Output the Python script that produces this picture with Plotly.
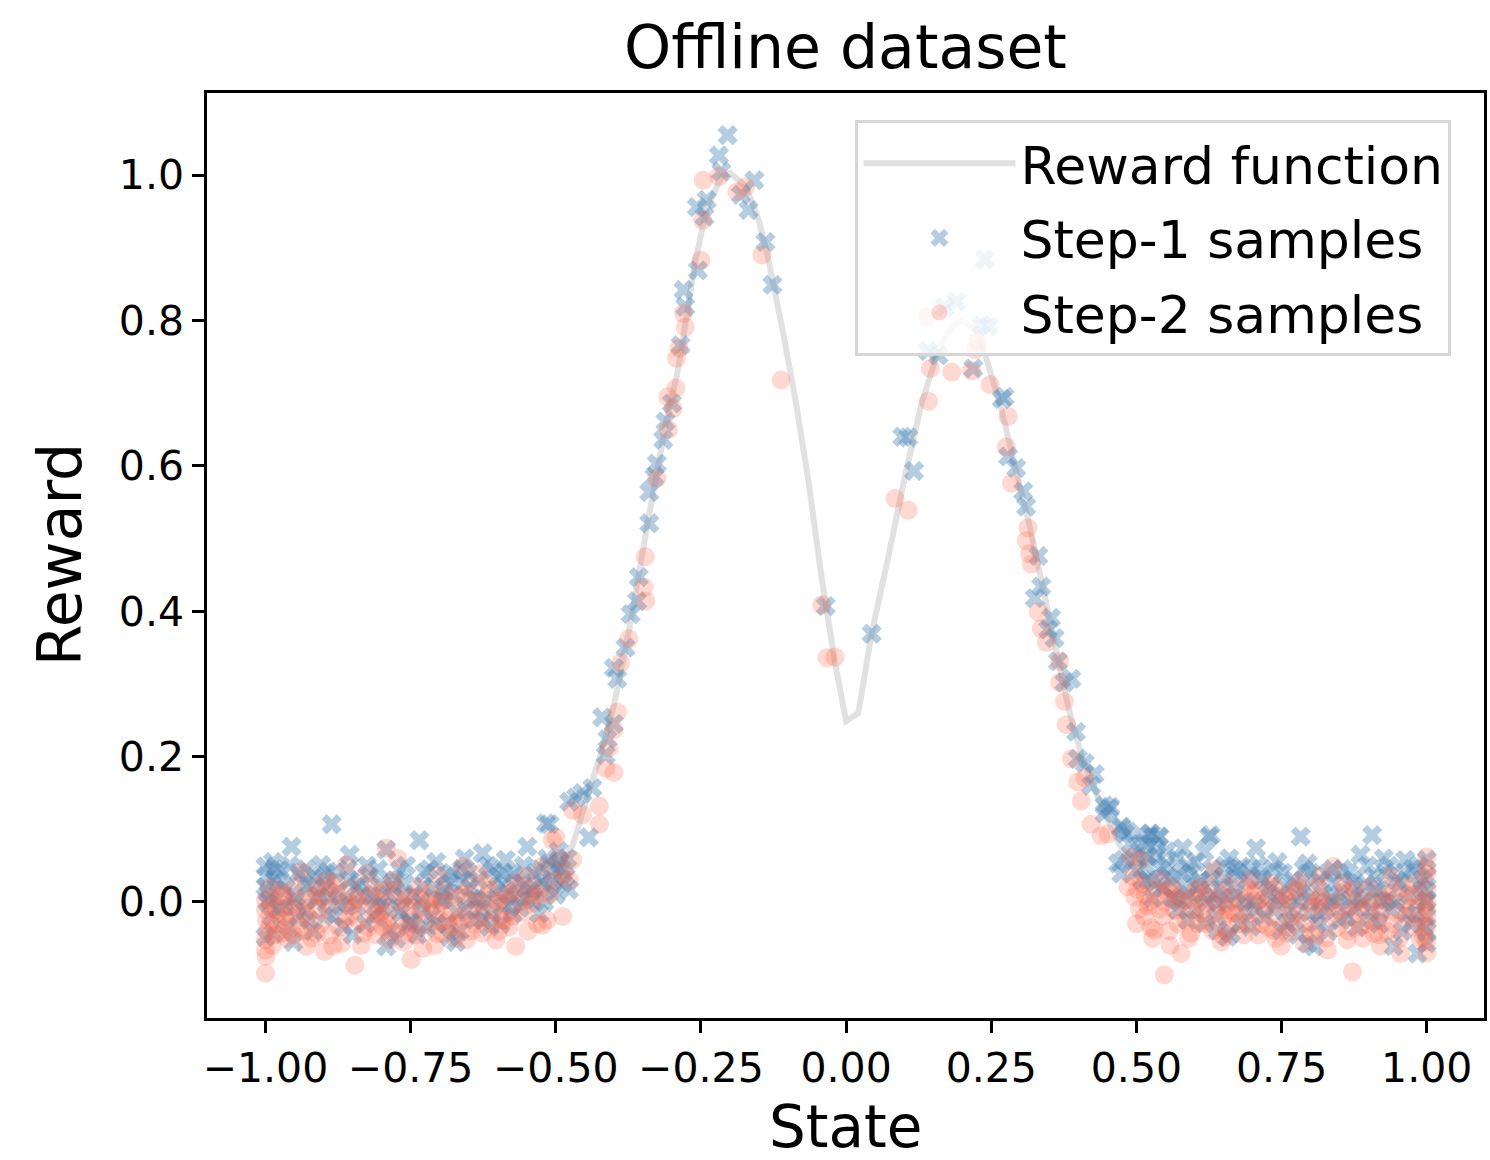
import plotly.graph_objects as go

# ---------------- data ----------------
reward_x = [-1.0, -0.8, -0.7, -0.6, -0.55, -0.5, -0.47, -0.44, -0.42, -0.40, -0.37, -0.34,
            -0.31, -0.29, -0.26, -0.24, -0.214, -0.20, -0.173, -0.15, -0.133, -0.11, -0.087,
            -0.065, -0.042, -0.019, 0.0, 0.021, 0.044, 0.073, 0.10, 0.13, 0.159, 0.182, 0.20,
            0.227, 0.245, 0.268, 0.29, 0.313, 0.336, 0.359, 0.382, 0.405, 0.439, 0.47, 0.5,
            0.55, 0.6, 0.7, 0.8, 1.0]
reward_y = [0.0, 0.0, 0.001, 0.005, 0.015, 0.04, 0.08, 0.16, 0.21, 0.27, 0.39, 0.53,
            0.66, 0.73, 0.88, 0.955, 0.998, 1.003, 0.985, 0.937, 0.881, 0.789, 0.69,
            0.58, 0.445, 0.329, 0.249, 0.26, 0.37, 0.476, 0.581, 0.686, 0.76, 0.792, 0.80,
            0.787, 0.739, 0.676, 0.602, 0.528, 0.444, 0.355, 0.27, 0.202, 0.133, 0.08, 0.04,
            0.015, 0.005, 0.001, 0.0, 0.0]

step1_left = [
    (-0.886, 0.107), (-0.955, 0.076), (-0.855, 0.065), (-0.792, 0.072), (-0.735, 0.085),
    (-0.706, 0.055), (-0.657, 0.060), (-0.626, 0.067), (-0.517, 0.108), (-0.549, 0.076),
    (-1.0, 0.049), (-0.987, 0.055), (-0.998, 0.035), (-0.975, 0.044), (-0.904, 0.051),
    (-0.892, 0.042), (-0.952, -0.055), (-0.672, -0.055), (-0.752, -0.029), (-0.723, -0.036),
    (-0.792, -0.061), (-0.695, 0.003), (-0.683, 0.026), (-0.660, 0.030), (-0.609, 0.044),
    (-0.586, 0.058), (-0.511, 0.053), (-0.488, 0.026), (-0.477, 0.017), (-0.529, -0.016),
    (-0.574, -0.016), (-0.592, -0.006), (-0.626, -0.025), (-0.855, 0.030), (-0.832, 0.012),
    (-0.912, 0.003), (-0.935, 0.026), (-0.924, -0.025), (-0.866, -0.034), (-0.843, -0.006),
    (-0.769, 0.044), (-0.781, 0.021), (-0.763, 0.007), (-0.729, 0.021), (-0.752, -0.025),
    (-0.700, 0.003), (-0.654, -0.011), (-0.637, 0.003), (-0.614, -0.034), (-0.683, -0.048),
    (-0.775, -0.050), (-0.987, -0.043), (-1.0, -0.048), (-0.969, -0.006), (-0.947, 0.007),
    (-0.992, 0.003), (-1.0, 0.021), (-0.889, 0.007), (-0.809, 0.003), (-0.821, 0.035),
    (-0.557, 0.026), (-0.540, 0.003), (-0.569, 0.007), (-0.523, 0.026), (-0.500, 0.049),
    (-0.483, 0.035), (-0.895, -0.016), (-0.729, -0.011), (-0.803, -0.011), (-0.592, 0.021),
    (-0.995, 0.012), (-0.990, -0.020), (-0.983, 0.030), (-0.978, -0.010), (-0.965, 0.018),
    (-0.960, -0.035), (-0.950, 0.000), (-0.943, 0.040), (-0.932, -0.012), (-0.925, 0.022),
    (-0.918, -0.040), (-0.908, 0.010), (-0.900, 0.032), (-0.882, -0.020), (-0.875, 0.015),
    (-0.860, 0.000), (-0.850, -0.045), (-0.838, 0.025), (-0.828, -0.030), (-0.818, 0.008),
    (-0.806, 0.045), (-0.797, -0.005), (-0.785, -0.040), (-0.777, 0.030), (-0.766, -0.015),
    (-0.758, 0.050), (-0.745, 0.010), (-0.738, -0.045), (-0.726, 0.040), (-0.714, -0.020),
    (-0.710, 0.020), (-0.690, 0.035), (-0.688, -0.030), (-0.676, 0.010), (-0.666, -0.040),
    (-0.662, 0.045), (-0.648, 0.020), (-0.640, -0.025), (-0.633, 0.030), (-0.620, 0.005),
    (-0.610, -0.015), (-0.600, 0.035), (-0.595, -0.030), (-0.582, 0.012), (-0.575, 0.040),
    (-0.562, -0.008), (-0.555, 0.050), (-0.545, 0.015), (-0.535, 0.040), (-0.520, 0.000),
    (-0.515, 0.060), (-0.505, 0.030), (-0.495, 0.070), (-0.490, 0.045),
    (-0.997, 0.000), (-0.985, 0.045), (-0.972, 0.025), (-0.958, 0.050), (-0.945, -0.020),
    (-0.930, 0.045), (-0.915, 0.035), (-0.898, 0.020), (-0.880, 0.040), (-0.870, -0.005),
    (-0.858, 0.045), (-0.845, 0.020), (-0.825, 0.050), (-0.812, -0.020), (-0.800, 0.025),
    (-0.788, 0.010), (-0.772, -0.010), (-0.760, 0.025), (-0.748, -0.030), (-0.732, 0.000),
    (-0.718, 0.045), (-0.705, -0.030), (-0.692, 0.015), (-0.680, 0.040), (-0.670, -0.015),
    (-0.651, 0.040), (-0.643, 0.005), (-0.630, -0.010), (-0.617, 0.050), (-0.603, 0.015),
    (-0.590, 0.040), (-0.578, -0.005), (-0.566, 0.030), (-0.552, 0.005), (-0.538, 0.020),
    (-0.526, 0.045), (-0.512, 0.020), (-0.500, 0.010), (-0.492, 0.055), (-0.480, 0.060),
]
step1_mid = [
    (-0.511, 0.107), (-0.477, 0.138), (-0.465, 0.144), (-0.454, 0.150), (-0.443, 0.089),
    (-0.437, 0.157), (-0.414, 0.202), (-0.411, 0.224), (-0.400, 0.245), (-0.420, 0.254),
    (-0.394, 0.307), (-0.400, 0.322), (-0.380, 0.350), (-0.360, 0.414), (-0.371, 0.396),
    (-0.357, 0.447), (-0.339, 0.521), (-0.339, 0.564), (-0.330, 0.585), (-0.326, 0.603),
    (-0.315, 0.636), (-0.311, 0.661), (-0.300, 0.686), (-0.285, 0.766), (-0.277, 0.819),
    (-0.280, 0.842), (-0.255, 0.869), (-0.257, 0.956), (-0.240, 0.966), (-0.244, 0.943),
    (-0.219, 1.027), (-0.204, 1.055), (-0.215, 1.005), (-0.181, 0.973), (-0.168, 0.952),
    (-0.158, 0.993), (-0.139, 0.908), (-0.127, 0.849), (-0.035, 0.407), (0.044, 0.369),
    (0.107, 0.639), (0.117, 0.593), (0.097, 0.640), (0.141, 0.758), (0.159, 0.752),
    (0.170, 0.818), (0.190, 0.826), (0.239, 0.884), (0.233, 0.794), (0.245, 0.792),
    (0.219, 0.734), (0.268, 0.692), (0.273, 0.695), (0.279, 0.613), (0.293, 0.597),
    (0.305, 0.565), (0.310, 0.544), (0.331, 0.476), (0.336, 0.434), (0.325, 0.418),
    (0.353, 0.391), (0.348, 0.375), (0.359, 0.363), (0.365, 0.331), (0.388, 0.307),
    (0.376, 0.302), (0.396, 0.234), (0.399, 0.197), (0.411, 0.191), (0.428, 0.176),
    (0.422, 0.160), (0.445, 0.133), (0.454, 0.128), (0.474, 0.102), (0.485, 0.097),
]
step1_right = [
    (0.783, 0.090), (0.906, 0.092), (0.628, 0.092), (0.706, 0.074), (0.743, 0.055),
    (0.580, 0.074), (0.617, 0.069), (0.525, 0.094), (0.540, 0.090), (0.886, 0.065),
    (0.926, 0.060), (0.963, 0.058), (1.0, 0.058), (0.984, -0.071), (0.806, -0.061),
    (0.657, -0.048), (0.943, -0.061), (1.0, -0.057), (0.795, 0.053), (0.680, 0.049),
    (0.474, 0.104), (0.480, 0.094), (0.468, 0.053), (0.474, 0.039), (0.520, 0.062),
    (0.554, 0.035), (0.588, 0.049), (0.605, 0.021), (0.651, 0.035), (0.669, 0.044),
    (0.714, 0.035), (0.760, 0.021), (0.829, 0.039), (0.840, 0.026), (0.875, 0.021),
    (0.909, 0.035), (0.955, 0.026), (0.989, 0.021), (1.0, 0.003), (0.571, -0.011),
    (0.588, -0.025), (0.617, -0.029), (0.663, -0.043), (0.697, -0.034), (0.737, -0.011),
    (0.772, -0.025), (0.800, 0.003), (0.817, -0.016), (0.852, -0.025), (0.869, 0.003),
    (0.903, -0.011), (0.932, 0.003), (0.966, -0.016), (0.995, -0.034), (0.560, 0.007),
    (0.634, 0.007), (0.726, 0.012), (0.783, 0.012), (0.835, 0.003), (0.886, 0.007),
    (0.920, 0.017), (0.502, 0.044), (0.531, 0.026), (0.795, -0.057), (0.749, -0.039),
    (0.640, -0.039), (0.686, -0.011), (0.514, 0.081), (0.445, 0.122), (0.455, 0.131),
    (0.478, 0.058), (0.523, 0.094), (0.538, 0.090), (0.625, 0.090),
    (0.490, 0.080), (0.505, 0.070), (0.510, 0.030), (0.517, 0.050), (0.528, 0.005),
    (0.535, 0.065), (0.545, 0.020), (0.550, 0.050), (0.562, 0.030), (0.570, 0.060),
    (0.575, 0.000), (0.585, 0.020), (0.595, 0.040), (0.600, -0.010), (0.610, 0.030),
    (0.622, 0.000), (0.630, 0.045), (0.638, -0.020), (0.645, 0.020), (0.655, 0.000),
    (0.660, 0.060), (0.672, 0.010), (0.678, -0.030), (0.690, 0.030), (0.700, 0.000),
    (0.710, 0.050), (0.720, -0.020), (0.730, 0.020), (0.742, 0.000), (0.752, 0.040),
    (0.765, -0.010), (0.770, 0.030), (0.778, -0.045), (0.790, 0.020), (0.800, 0.040),
    (0.810, -0.030), (0.822, 0.010), (0.830, -0.040), (0.845, 0.000), (0.855, 0.045),
    (0.862, -0.020), (0.872, 0.030), (0.880, -0.035), (0.890, 0.000), (0.898, 0.050),
    (0.912, 0.015), (0.918, -0.030), (0.928, 0.040), (0.938, -0.010), (0.948, 0.030),
    (0.958, -0.040), (0.970, 0.010), (0.975, 0.045), (0.982, -0.015), (0.992, 0.030),
    (1.0, 0.035), (1.0, -0.020), (1.0, 0.015), (1.0, -0.040),
    (0.498, 0.060), (0.512, 0.090), (0.520, 0.030), (0.532, 0.075), (0.542, 0.045),
    (0.552, 0.070), (0.565, 0.005), (0.578, 0.040), (0.590, 0.010), (0.603, 0.055),
    (0.614, 0.010), (0.627, 0.030), (0.642, 0.000), (0.652, 0.050), (0.666, 0.020),
    (0.675, 0.040), (0.688, 0.000), (0.698, 0.045), (0.708, -0.010), (0.718, 0.030),
    (0.735, 0.045), (0.748, 0.010), (0.758, -0.030), (0.775, 0.000), (0.788, 0.045),
    (0.798, -0.015), (0.815, 0.030), (0.826, -0.010), (0.838, 0.045), (0.850, 0.010),
    (0.866, 0.040), (0.877, -0.010), (0.895, 0.025), (0.907, -0.025), (0.922, 0.000),
    (0.935, 0.050), (0.945, 0.000), (0.962, 0.040), (0.973, -0.030), (0.986, 0.050),
    (0.997, 0.000),
]

step2_left = [
    (-1.0, -0.098), (-1.0, -0.066), (-1.0, -0.052), (-1.0, -0.011), (-1.0, 0.003),
    (-0.998, -0.025), (-0.981, -0.011), (-0.969, 0.007), (-0.969, -0.043), (-0.938, 0.042),
    (-0.929, -0.061), (-0.898, -0.068), (-0.884, -0.061), (-0.869, -0.057), (-0.861, 0.051),
    (-0.846, -0.087), (-0.826, 0.039), (-0.815, -0.011), (-0.792, 0.074), (-0.772, 0.060),
    (-0.792, -0.029), (-0.786, -0.052), (-0.749, -0.079), (-0.729, -0.064), (-0.703, 0.037),
    (-0.717, 0.012), (-0.695, -0.043), (-0.654, -0.052), (-0.626, -0.043), (-0.632, 0.039),
    (-0.603, -0.052), (-0.580, -0.034), (-0.569, -0.061), (-0.540, -0.002), (-0.523, -0.032),
    (-0.506, 0.085), (-0.488, -0.020), (-0.471, 0.058), (-0.477, 0.030), (-0.958, -0.006),
    (-0.912, 0.021), (-0.878, 0.026), (-0.843, 0.003), (-0.809, -0.016), (-0.798, -0.034),
    (-0.775, 0.017), (-0.758, -0.006), (-0.741, 0.007), (-0.706, -0.011), (-0.672, 0.007),
    (-0.649, -0.016), (-0.614, 0.017), (-0.592, 0.003), (-0.569, 0.026), (-0.551, 0.035),
    (-0.523, 0.049), (-0.855, -0.020), (-0.924, 0.003), (-0.992, -0.029), (-0.964, -0.025),
    (-0.941, -0.034), (-0.912, -0.043), (-0.706, -0.043), (-0.752, -0.043), (-0.832, -0.043),
    (-0.677, -0.034), (-0.592, -0.025), (-0.660, 0.049), (-0.895, 0.030),
    (-0.997, -0.040), (-0.993, 0.020), (-0.988, -0.060), (-0.978, -0.030), (-0.972, 0.010),
    (-0.962, -0.050), (-0.955, -0.015), (-0.948, 0.020), (-0.935, -0.040), (-0.927, -0.020),
    (-0.915, 0.010), (-0.905, -0.030), (-0.893, -0.010), (-0.887, 0.020), (-0.873, -0.035),
    (-0.865, 0.000), (-0.852, 0.020), (-0.840, -0.025), (-0.835, -0.060), (-0.820, 0.010),
    (-0.810, -0.045), (-0.800, 0.000), (-0.790, -0.015), (-0.780, 0.030), (-0.770, -0.030),
    (-0.762, -0.055), (-0.755, 0.005), (-0.745, -0.020), (-0.735, 0.020), (-0.725, -0.030),
    (-0.712, -0.005), (-0.700, -0.025), (-0.690, 0.015), (-0.680, -0.012), (-0.668, -0.030),
    (-0.658, 0.010), (-0.645, -0.040), (-0.636, 0.000), (-0.625, -0.020), (-0.618, 0.025),
    (-0.605, -0.010), (-0.598, -0.040), (-0.585, 0.010), (-0.575, -0.020), (-0.560, 0.000),
    (-0.548, -0.040), (-0.537, 0.020), (-0.528, 0.010), (-0.515, -0.025), (-0.503, 0.030),
    (-0.495, 0.060), (-0.485, 0.040),
    (-0.999, -0.075), (-0.990, -0.005), (-0.982, -0.045), (-0.975, 0.015), (-0.966, -0.020),
    (-0.952, -0.045), (-0.944, 0.000), (-0.932, -0.015), (-0.920, -0.050), (-0.910, -0.010),
    (-0.900, 0.005), (-0.890, -0.045), (-0.876, 0.010), (-0.862, -0.025), (-0.850, -0.005),
    (-0.838, 0.000), (-0.823, -0.035), (-0.812, 0.020), (-0.803, -0.020), (-0.795, 0.015),
    (-0.782, -0.040), (-0.768, 0.000), (-0.756, -0.035), (-0.740, -0.045), (-0.732, -0.010),
    (-0.720, 0.000), (-0.708, -0.060), (-0.697, 0.000), (-0.686, -0.025), (-0.673, -0.050),
    (-0.662, -0.020), (-0.650, 0.020), (-0.640, -0.030), (-0.628, 0.000), (-0.612, -0.030),
    (-0.600, 0.000), (-0.588, -0.025), (-0.572, 0.015), (-0.556, -0.015), (-0.543, 0.010),
    (-0.532, -0.030), (-0.510, 0.010),
]
step2_mid = [
    (-0.500, 0.089), (-0.471, 0.126), (-0.454, 0.120), (-0.425, 0.132), (-0.425, 0.107),
    (-0.414, 0.184), (-0.400, 0.178), (-0.408, 0.212), (-0.400, 0.237), (-0.394, 0.261),
    (-0.388, 0.329), (-0.374, 0.362), (-0.345, 0.414), (-0.348, 0.433), (-0.346, 0.475),
    (-0.326, 0.583), (-0.306, 0.650), (-0.298, 0.679), (-0.307, 0.695), (-0.293, 0.707),
    (-0.292, 0.748), (-0.288, 0.762), (-0.280, 0.810), (-0.277, 0.791), (-0.250, 0.883),
    (-0.247, 0.938), (-0.246, 0.993), (-0.219, 0.998), (-0.188, 0.977), (-0.173, 0.984),
    (-0.145, 0.890), (-0.112, 0.718), (-0.042, 0.409), (-0.033, 0.336), (-0.019, 0.337),
    (0.084, 0.555), (0.107, 0.539), (0.140, 0.805), (0.145, 0.734), (0.142, 0.689),
    (0.182, 0.729), (0.222, 0.760), (0.227, 0.771), (0.216, 0.731), (0.248, 0.712),
    (0.279, 0.668), (0.276, 0.626), (0.285, 0.576), (0.313, 0.515), (0.310, 0.497),
    (0.316, 0.479), (0.319, 0.465), (0.331, 0.399), (0.336, 0.376), (0.345, 0.357),
    (0.368, 0.331), (0.368, 0.302), (0.376, 0.276), (0.379, 0.244), (0.388, 0.197),
    (0.399, 0.165), (0.411, 0.171), (0.405, 0.139), (0.422, 0.107), (0.439, 0.091),
]
step2_right = [
    (0.548, -0.100), (0.577, -0.071), (0.872, -0.096), (0.502, 0.017), (0.497, 0.007),
    (0.514, -0.020), (0.531, -0.039), (0.594, -0.043), (0.646, -0.055), (0.663, -0.016),
    (0.697, 0.030), (0.737, -0.039), (0.760, -0.043), (0.789, -0.057), (0.829, -0.066),
    (0.840, 0.049), (0.863, -0.052), (0.920, -0.061), (0.955, -0.071), (0.995, -0.048),
    (1.0, 0.062), (1.0, 0.039), (1.0, 0.017), (1.0, -0.011), (1.0, -0.034),
    (0.669, -0.016), (0.651, -0.048), (0.451, 0.094), (0.491, 0.062), (0.508, 0.058),
    (0.485, 0.021), (0.520, -0.006), (0.554, 0.012), (0.566, -0.011), (0.617, 0.007),
    (0.634, 0.044), (0.657, -0.011), (0.691, 0.021), (0.714, 0.003), (0.737, 0.021),
    (0.760, 0.003), (0.783, 0.030), (0.806, -0.006), (0.817, 0.007), (0.852, -0.011),
    (0.875, 0.017), (0.898, -0.006), (0.920, -0.016), (0.943, 0.012), (0.966, 0.003),
    (0.978, -0.034), (0.909, -0.043), (0.886, -0.034), (0.726, -0.034), (0.691, -0.029),
    (0.611, -0.016), (0.588, 0.003), (0.542, 0.030), (0.817, 0.035), (0.938, 0.035),
    (0.749, -0.061),
    (0.495, 0.035), (0.505, -0.010), (0.510, 0.025), (0.522, 0.000), (0.528, -0.050),
    (0.537, 0.015), (0.545, -0.020), (0.556, -0.040), (0.562, 0.020), (0.572, -0.030),
    (0.580, 0.000), (0.590, -0.050), (0.600, 0.015), (0.606, -0.030), (0.615, -0.005),
    (0.625, 0.020), (0.632, -0.040), (0.640, 0.000), (0.650, -0.020), (0.660, 0.025),
    (0.675, -0.030), (0.680, 0.000), (0.695, -0.015), (0.705, 0.015), (0.710, -0.045),
    (0.720, -0.010), (0.730, 0.025), (0.745, -0.020), (0.755, 0.010), (0.765, -0.035),
    (0.772, 0.015), (0.780, -0.015), (0.795, 0.000), (0.800, -0.040), (0.812, 0.020),
    (0.820, -0.020), (0.835, 0.000), (0.845, -0.035), (0.858, 0.015), (0.868, -0.020),
    (0.880, 0.000), (0.890, -0.050), (0.902, 0.020), (0.915, -0.025), (0.925, 0.000),
    (0.932, -0.040), (0.948, -0.015), (0.958, 0.020), (0.972, -0.010), (0.980, 0.025),
    (0.988, -0.050), (0.995, 0.000), (1.0, -0.055), (1.0, 0.045), (1.0, -0.020),
    (0.500, -0.030), (0.515, 0.010), (0.525, -0.035), (0.540, -0.010), (0.550, 0.000),
    (0.558, -0.060), (0.568, 0.010), (0.585, -0.025), (0.597, -0.010), (0.608, 0.020),
    (0.620, -0.030), (0.636, -0.015), (0.648, 0.010), (0.655, -0.040), (0.668, 0.005),
    (0.685, -0.045), (0.700, 0.010), (0.715, -0.030), (0.725, 0.000), (0.740, -0.050),
    (0.750, 0.000), (0.768, -0.020), (0.778, 0.020), (0.790, -0.030), (0.808, -0.045),
    (0.815, 0.000), (0.826, -0.050), (0.842, -0.015), (0.855, 0.025), (0.865, -0.040),
    (0.878, -0.010), (0.895, -0.030), (0.905, 0.000), (0.918, -0.045), (0.930, 0.010),
    (0.942, -0.030), (0.953, -0.050), (0.965, -0.020), (0.976, 0.010), (0.990, -0.025),
    (1.0, 0.000), (1.0, -0.070),
]

x_ticks = [-1.0, -0.75, -0.5, -0.25, 0.0, 0.25, 0.5, 0.75, 1.0]
y_ticks = [0.0, 0.2, 0.4, 0.6, 0.8, 1.0]

step1 = step1_left + step1_mid + step1_right
step2 = step2_left + step2_mid + step2_right

FONT = "DejaVu Sans"

fig = go.Figure()
fig.add_trace(go.Scatter(
    x=reward_x, y=reward_y, mode="lines", name="Reward function", legendgroup="a",
    line=dict(color="rgba(200,200,200,0.55)", width=6),
))
fig.add_trace(go.Scatter(
    x=[p[0] for p in step1], y=[p[1] for p in step1], mode="markers",
    name="Step-1 samples", legendgroup="b",
    marker=dict(symbol="x", size=18, color="steelblue", opacity=0.4, line=dict(width=0)),
))
fig.add_trace(go.Scatter(
    x=[p[0] for p in step2], y=[p[1] for p in step2], mode="markers",
    name="Step-2 samples", legendgroup="c",
    marker=dict(symbol="circle", size=19, color="tomato", opacity=0.25, line=dict(width=0)),
))

axis_common = dict(
    showline=True, linecolor="black", linewidth=2.5, mirror=True,
    ticks="outside", ticklen=12, tickwidth=2.5, tickcolor="black",
    showgrid=False, zeroline=False,
    tickfont=dict(family=FONT, size=41, color="black"),
)

fig.update_layout(
    width=1490, height=1160,
    paper_bgcolor="white", plot_bgcolor="white",
    margin=dict(l=207, r=3, t=93, b=142),
    title=dict(text="Offline dataset", x=0.5, xref="paper", y=1 - 47 / 1160,
               yref="container", xanchor="center", yanchor="middle",
               font=dict(family=FONT, size=60, color="black")),
    xaxis=dict(range=[-1.1007, 1.0986], tickvals=x_ticks, tickformat=".2f", **axis_common),
    yaxis=dict(range=[-0.1596, 1.113], tickvals=y_ticks, tickformat=".1f", **axis_common),
    legend=dict(
        x=(857 - 207) / 1280, y=(1018 - 120) / 925, xanchor="left", yanchor="top",
        bgcolor="rgba(255,255,255,0.8)", bordercolor="#d6d6d6", borderwidth=3,
        font=dict(family=FONT, size=52, color="black"),
        itemwidth=152, tracegroupgap=4,
    ),
    showlegend=True,
    annotations=[
        dict(text="State", x=0.5, y=(1018 - 1163) / 925, xref="paper", yref="paper",
             showarrow=False, xanchor="center", yanchor="bottom",
             font=dict(family=FONT, size=58, color="black")),
        dict(text="Reward", x=(60 - 207) / 1280, y=(1018 - 555) / 925, xref="paper",
             yref="paper", showarrow=False, textangle=-90, xanchor="center",
             yanchor="middle", font=dict(family=FONT, size=60, color="black")),
    ],
)

fig.write_html("out.html", config={"displayModeBar": False},
               post_script="document.body.style.margin='0px';")
